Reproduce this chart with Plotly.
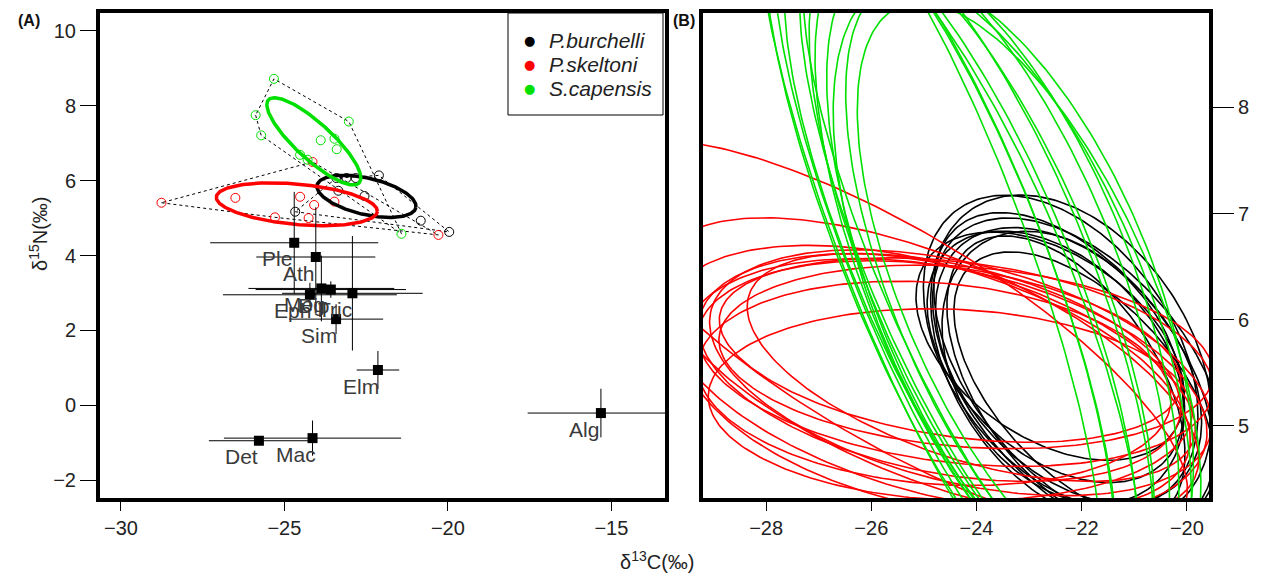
import numpy as np
import plotly.graph_objects as go

# ---------------- data (panel A) ----------------
bur_x = [-22.11, -22.55, -23.35, -24.67, -20.83, -19.96, -23.41, -23.10, -22.82]
bur_y = [6.14, 5.59, 5.73, 5.17, 4.93, 4.63, 6.07, 6.07, 6.07]
ske_x = [-28.76, -26.50, -24.14, -24.52, -24.09, -23.47, -25.29, -24.26, -20.29]
ske_y = [5.41, 5.54, 6.50, 5.57, 5.35, 5.44, 5.02, 5.00, 4.55]
cap_x = [-25.32, -25.88, -25.71, -23.03, -23.89, -23.47, -23.40, -24.52, -24.29, -21.42]
cap_y = [8.72, 7.75, 7.21, 7.58, 7.08, 7.12, 6.84, 6.69, 6.56, 4.58]

src_names = ["Ple", "Ath", "Meg", "Dip", "Eph", "Tric", "Sim", "Elm", "Det", "Mac", "Alg"]
src_x = [-24.70, -24.04, -23.87, -23.58, -24.22, -22.92, -23.42, -22.14, -25.78, -24.14, -15.32]
src_y = [4.34, 3.96, 3.12, 3.09, 2.95, 2.99, 2.30, 0.94, -0.95, -0.88, -0.21]
src_sdx = [2.57, 1.82, 2.23, 2.30, 2.66, 2.15, 1.44, 0.65, 1.53, 2.71, 2.24]
src_sdy = [1.36, 1.33, 0.88, 0.22, 0.32, 1.53, 0.40, 0.51, 0.08, 0.47, 0.65]

# SEAc ellipses (panel A): centre x, centre y, semi-major, semi-minor, angle (deg)
sea_species = ["bur", "ske", "cap"]
sea_cx = [-22.49, -24.62, -24.10]
sea_cy = [5.58, 5.37, 7.05]
sea_a = [1.54, 2.47, 1.78]
sea_b = [0.49, 0.54, 0.51]
sea_th = [-11, -4.5, -38]

leg_names = ["P.burchelli", "P.skeltoni", "S.capensis"]

# ---------------- data (panel B): posterior ellipses ----------------
blk_cx = [-22.40, -22.25, -22.15, -22.50, -22.05, -22.30, -22.60, -22.20, -21.95, -22.35]
blk_cy = [5.70, 5.57, 5.53, 5.65, 5.47, 5.43, 5.75, 5.63, 5.37, 5.55]
blk_a = [2.70, 2.60, 2.80, 2.50, 2.90, 2.40, 2.60, 2.75, 2.60, 2.35]
blk_b = [1.30, 1.15, 1.20, 1.05, 1.25, 1.10, 0.95, 1.40, 1.00, 1.20]
blk_th = [-17, -15, -20, -14, -18, -22, -12, -16, -19, -13]

red_cx = [-24.4, -24.7, -24.2, -24.9, -24.5, -24.3, -24.9, -24.8, -24.1, -25.6, -24.6, -24.5]
red_cy = [5.60, 5.55, 5.65, 5.45, 5.70, 5.50, 5.55, 5.40, 5.55, 5.85, 5.35, 5.20]
red_a = [4.9, 4.6, 4.7, 5.0, 4.4, 4.8, 5.2, 4.5, 4.3, 5.8, 5.0, 4.6]
red_b = [0.95, 1.00, 0.85, 1.10, 0.80, 1.05, 1.10, 0.95, 0.90, 1.10, 1.15, 0.90]
red_th = [-3, -5, -2, -7, -4, -6, -10, -2, -8, -15, -5, -1]

grn_cx = [-23.9, -24.6, -23.2, -24.3, -23.5, -24.9, -23.0, -24.1, -23.7, -24.7, -23.3, -24.0]
grn_cy = [6.45, 6.65, 6.25, 6.55, 6.35, 6.80, 6.20, 6.50, 6.40, 6.70, 6.30, 6.55]
grn_a = [4.2, 4.5, 4.0, 4.4, 4.1, 4.7, 3.9, 4.3, 4.2, 4.6, 4.0, 4.4]
grn_b = [1.70, 1.50, 1.85, 1.60, 1.95, 1.45, 1.80, 1.40, 1.90, 1.55, 2.05, 1.65]
grn_th = [-43, -47, -40, -44, -41, -49, -38, -45, -42, -47, -37, -44]

COL = {"bur": "#000000", "ske": "#FF0000", "cap": "#00E000"}
FONT = "Liberation Sans, Arial, sans-serif"
# the page has an 8px body margin at top/left; the figure fills the rest of the window
OFF = 8
FW, FH = 1266 - OFF, 575 - OFF


def PX(px):
    return (px - OFF) / FW


def PY(py):
    return 1 - (py - OFF) / FH


def ellipse(cx, cy, a, b, th, n=240):
    t = np.linspace(0, 2 * np.pi, n)
    r = np.radians(th)
    x = cx + a * np.cos(t) * np.cos(r) - b * np.sin(t) * np.sin(r)
    y = cy + a * np.cos(t) * np.sin(r) + b * np.sin(t) * np.cos(r)
    return x, y


def family(cxs, cys, as_, bs, ths):
    xs, ys = [], []
    for cx, cy, a, b, th in zip(cxs, cys, as_, bs, ths):
        x, y = ellipse(cx, cy, a, b, th)
        xs += list(x) + [None]
        ys += list(y) + [None]
    return xs, ys


def hull(xs, ys):
    pts = sorted(set(zip(xs, ys)))

    def cross(o, a, b):
        return (a[0] - o[0]) * (b[1] - o[1]) - (a[1] - o[1]) * (b[0] - o[0])

    lower, upper = [], []
    for p in pts:
        while len(lower) >= 2 and cross(lower[-2], lower[-1], p) <= 0:
            lower.pop()
        lower.append(p)
    for p in reversed(pts):
        while len(upper) >= 2 and cross(upper[-2], upper[-1], p) <= 0:
            upper.pop()
        upper.append(p)
    h = lower[:-1] + upper[:-1]
    return h + [h[0]]


fig = go.Figure()
groups = {"bur": (bur_x, bur_y), "ske": (ske_x, ske_y), "cap": (cap_x, cap_y)}

# convex hulls
for k, (xs, ys) in groups.items():
    h = hull(xs, ys)
    fig.add_trace(go.Scatter(x=[p[0] for p in h], y=[p[1] for p in h], mode="lines",
                             line=dict(color="black", width=1, dash="3px,3px"),
                             showlegend=False, hoverinfo="skip", xaxis="x", yaxis="y"))
# consumer points
for k, (xs, ys) in groups.items():
    fig.add_trace(go.Scatter(x=xs, y=ys, mode="markers",
                             marker=dict(symbol="circle-open", size=9, color=COL[k], line=dict(width=1)),
                             showlegend=False, xaxis="x", yaxis="y"))
# SEAc ellipses
for i, k in enumerate(sea_species):
    x, y = ellipse(sea_cx[i], sea_cy[i], sea_a[i], sea_b[i], sea_th[i])
    fig.add_trace(go.Scatter(x=x, y=y, mode="lines", line=dict(color=COL[k], width=3.5),
                             showlegend=False, hoverinfo="skip", xaxis="x", yaxis="y"))
# food sources
fig.add_trace(go.Scatter(x=src_x, y=src_y, mode="markers", text=src_names,
                         marker=dict(symbol="square", size=10, color="black"),
                         error_x=dict(type="data", array=src_sdx, color="black", thickness=1, width=0),
                         error_y=dict(type="data", array=src_sdy, color="black", thickness=1, width=0),
                         showlegend=False, xaxis="x", yaxis="y"))
for nm, sx, sy in zip(src_names, src_x, src_y):
    fig.add_annotation(x=sx, y=sy, xref="x", yref="y", text=nm, showarrow=False,
                       xanchor="center", yanchor="middle",
                       xshift=-17, yshift=-16, font=dict(size=21, color="#3a3a3a", family=FONT))

# panel B posterior ellipses
for (cxs, cys, as_, bs, ths), k in [((blk_cx, blk_cy, blk_a, blk_b, blk_th), "bur"),
                                     ((red_cx, red_cy, red_a, red_b, red_th), "ske"),
                                     ((grn_cx, grn_cy, grn_a, grn_b, grn_th), "cap")]:
    xs, ys = family(cxs, cys, as_, bs, ths)
    fig.add_trace(go.Scatter(x=xs, y=ys, mode="lines", line=dict(color=COL[k], width=1.6),
                             showlegend=False, hoverinfo="skip", xaxis="x2", yaxis="y2"))

ax_common = dict(showgrid=False, zeroline=False, showline=True, linecolor="black", linewidth=4,
                 mirror=True, ticks="outside", tickcolor="black", tickwidth=1.2,
                 tickfont=dict(size=20, color="#222", family=FONT))

yd = [PY(498), PY(13)]
fig.update_layout(
    width=FW, height=FH, autosize=False,
    margin=dict(l=0, r=0, t=0, b=0),
    paper_bgcolor="white", plot_bgcolor="white",
    showlegend=False,
    xaxis=dict(domain=[PX(100), PX(665)], range=[-30.64, -13.36], tickvals=[-30, -25, -20, -15],
               ticklen=9, anchor="y", **ax_common),
    yaxis=dict(domain=yd, range=[-2.48, 10.48], tickvals=[-2, 0, 2, 4, 6, 8, 10],
               ticklen=16, anchor="x", **ax_common),
    xaxis2=dict(domain=[PX(703), PX(1209)], range=[-29.2, -19.58], tickvals=[-28, -26, -24, -22, -20],
                ticklen=9, anchor="y2", **ax_common),
    yaxis2=dict(domain=yd, range=[4.32, 8.89], tickvals=[5, 6, 7, 8], side="right",
                ticklen=21, anchor="x2", **ax_common),
)

# legend (box with symbols and italic labels)
fig.add_shape(type="rect", xref="paper", yref="paper", x0=PX(508), x1=PX(663), y0=PY(115), y1=PY(13),
              line=dict(color="black", width=1), fillcolor="white", layer="above")
for i, (k, nm) in enumerate(zip(sea_species, leg_names)):
    ry = 41 + 24 * i
    fig.add_annotation(x=PX(529), y=PY(ry), xref="paper", yref="paper", showarrow=False,
                       xanchor="center", yanchor="middle", text="●",
                       font=dict(size=13, color=COL[k], family="DejaVu Sans"))
    fig.add_annotation(x=PX(547), y=PY(ry), xref="paper", yref="paper", showarrow=False,
                       xanchor="left", yanchor="middle", text="<i>" + nm + "</i>",
                       font=dict(size=21, color="#222", family=FONT))

fig.add_annotation(x=PX(657), y=PY(560), xref="paper", yref="paper", showarrow=False,
                   xanchor="center", yanchor="middle",
                   text="δ<sup>13</sup>C(‰)", font=dict(size=20, color="#222", family=FONT))
fig.add_annotation(x=PX(38), y=PY(234), xref="paper", yref="paper", showarrow=False,
                   xanchor="center", yanchor="middle",
                   text="δ<sup>15</sup>N(‰)", textangle=-90, font=dict(size=20, color="#222", family=FONT))
fig.add_annotation(x=PX(29), y=PY(21), xref="paper", yref="paper", showarrow=False,
                   xanchor="center", yanchor="middle",
                   text="<b>(A)</b>", font=dict(size=16, color="#111", family=FONT))
fig.add_annotation(x=PX(684), y=PY(20), xref="paper", yref="paper", showarrow=False,
                   xanchor="center", yanchor="middle",
                   text="<b>(B)</b>", font=dict(size=16, color="#111", family=FONT))

fig.write_html("out.html")
